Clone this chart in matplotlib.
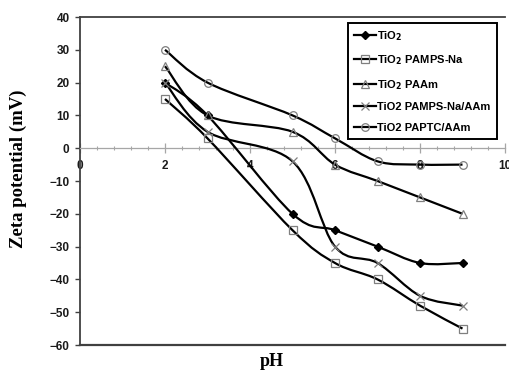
import matplotlib
matplotlib.use("Agg")
import matplotlib.pyplot as plt
from matplotlib.path import Path
from matplotlib.patches import PathPatch
from matplotlib.lines import Line2D
from matplotlib.ticker import MultipleLocator

# pH values and zeta potentials (mV)
ph = [2, 3, 5, 6, 7, 8, 9]
tio2 = [20, 10, -20, -25, -30, -35, -35]
pamps_na = [15, 3, -25, -35, -40, -48, -55]
paam = [25, 10, 5, -5, -10, -15, -20]
pamps_aam = [20, 5, -4, -30, -35, -45, -48]
paptc_aam = [30, 20, 10, 3, -4, -5, -5]

labels = ["TiO$_\\mathbf{2}$", "TiO$_\\mathbf{2}$ PAMPS-Na", "TiO$_\\mathbf{2}$ PAAm",
          "TiO2 PAMPS-Na/AAm", "TiO2 PAPTC/AAm"]
series = [tio2, pamps_na, paam, pamps_aam, paptc_aam]
markers = ["D", "s", "^", "x", "o"]


def smooth_path(xs, ys):
    # excel-like smoothed line: cubic bezier segments through the points
    pts = list(zip(xs, ys))
    n = len(pts)
    verts = [pts[0]]
    codes = [Path.MOVETO]
    for i in range(n - 1):
        p0 = pts[i - 1] if i > 0 else pts[i]
        p1 = pts[i]
        p2 = pts[i + 1]
        p3 = pts[i + 2] if i + 2 < n else pts[i + 1]
        c1 = (p1[0] + (p2[0] - p0[0]) / 6, p1[1] + (p2[1] - p0[1]) / 6)
        c2 = (p2[0] - (p3[0] - p1[0]) / 6, p2[1] - (p3[1] - p1[1]) / 6)
        verts += [c1, c2, p2]
        codes += [Path.CURVE4] * 3
    return Path(verts, codes)


fig = plt.figure(figsize=(5.09, 3.72), dpi=100)
ax = fig.add_axes([80 / 509, 1 - 345 / 372, 425 / 509, 328 / 372])

gray = "#7f7f7f"
handles = []
for ys, m, lab in zip(series, markers, labels):
    ax.add_patch(PathPatch(smooth_path(ph, ys), facecolor="none",
                           edgecolor="black", lw=1.6, zorder=3))
    if m == "D":
        mk = dict(marker=m, ms=4.5, mfc="black", mec="black")
    elif m == "x":
        mk = dict(marker=m, ms=6, mec=gray, mew=0.9)
    else:
        mk = dict(marker=m, ms=5.5, mfc="none", mec=gray, mew=0.9)
    ax.plot(ph, ys, ls="none", zorder=4, **mk)
    handles.append(Line2D([], [], color="black", lw=1.6, label=lab, **mk))

ax.set_xlim(0, 10)
ax.set_ylim(-60, 40)

# x axis crosses at zero
ax.spines["bottom"].set_position(("data", 0))
ax.spines["bottom"].set_color("#a6a6a6")
ax.spines["bottom"].set_linewidth(0.9)
ax.spines["right"].set_visible(False)
ax.spines["left"].set_color("#404040")
ax.spines["left"].set_linewidth(1.3)
ax.spines["top"].set_color("#404040")
ax.spines["top"].set_linewidth(1.3)
ax.axhline(-60, color="#404040", lw=1.6, clip_on=False, zorder=5)

ax.xaxis.set_major_locator(MultipleLocator(2))
ax.xaxis.set_minor_locator(MultipleLocator(0.4))
ax.yaxis.set_major_locator(MultipleLocator(10))
ax.tick_params(axis="x", which="major", direction="inout", length=7,
               color="#a6a6a6", width=0.9, pad=5, labelsize=8.5)
ax.tick_params(axis="x", which="minor", direction="inout", length=3.5,
               color="#a6a6a6", width=0.8)
ax.tick_params(axis="y", direction="out", length=3.5, color="#404040",
               width=1, pad=4, labelsize=8.5)
for t in ax.get_xticklabels() + ax.get_yticklabels():
    t.set_fontweight("bold")
    t.set_family("Liberation Sans")
    t.set_color("#1a1a1a")

leg = ax.legend(handles=handles, loc="upper right",
                bbox_to_anchor=(0.981, 0.982), borderaxespad=0,
                prop={"family": "Liberation Sans", "weight": "bold", "size": 8},
                handlelength=2.0, handletextpad=0.1, labelspacing=0.95,
                borderpad=0.55, fancybox=False, framealpha=1)
leg.get_frame().set_edgecolor("black")
leg.get_frame().set_linewidth(1.4)
leg.set_zorder(6)

fig.text(18 / 509, 1 - 169 / 372, "Zeta potential (mV)", rotation=90,
         ha="center", va="center", family="Liberation Serif",
         weight="bold", size=13.5)
fig.text(272 / 509, 1 - 361 / 372, "pH", ha="center", va="center",
         family="Liberation Serif", weight="bold", size=13)

fig.savefig("out.png", dpi=100)
